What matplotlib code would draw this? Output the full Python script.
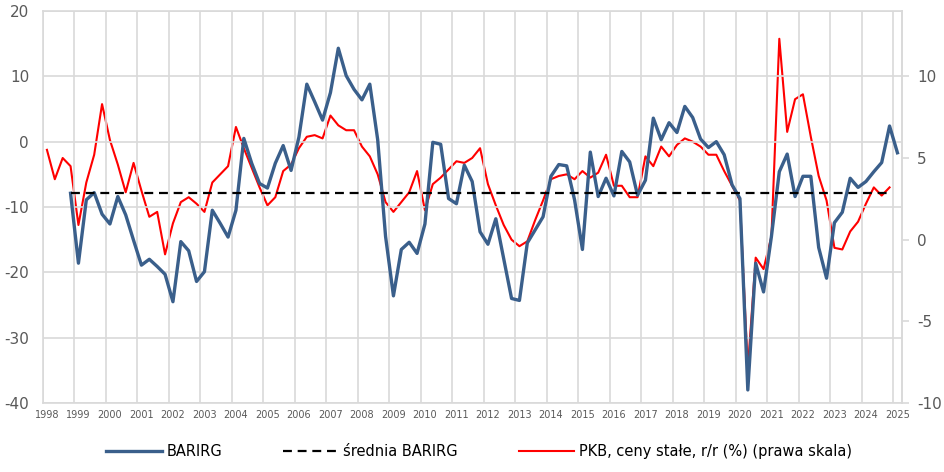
import numpy as np
import pandas as pd
import matplotlib
matplotlib.use("Agg")
import matplotlib.pyplot as plt
import matplotlib.transforms as mtransforms

plt.rcParams["axes.unicode_minus"] = False

# PKB, ceny stałe, r/r (%) – 1998Q1 .. 2024Q4
pkb = [5.5, 3.7, 5.0, 4.5, 0.9, 3.5, 5.2, 8.3, 6.1, 4.6, 2.9, 4.7, 3.0, 1.4, 1.7, -0.9,
       1.0, 2.3, 2.6, 2.2, 1.7, 3.5, 4.0, 4.5, 6.9, 5.6, 4.4, 3.2, 2.1, 2.6, 4.2, 4.6,
       5.6, 6.3, 6.4, 6.2, 7.6, 7.0, 6.7, 6.7, 5.7, 5.1, 4.0, 2.3, 1.7, 2.3, 2.9, 4.2,
       1.8, 3.4, 3.8, 4.3, 4.8, 4.7, 5.0, 5.6, 3.4, 2.1, 0.9, 0.0, -0.4, -0.1, 1.2, 2.4,
       3.7, 3.9, 4.0, 3.7, 4.2, 3.8, 4.1, 5.2, 3.3, 3.3, 2.6, 2.6, 5.1, 4.5, 5.7, 5.1,
       5.8, 6.2, 6.0, 5.7, 5.2, 5.2, 4.2, 3.3, 2.4, -7.9, -1.1, -1.8, 0.2, 12.3, 6.6, 8.6,
       8.9, 6.3, 3.9, 2.4, -0.5, -0.6, 0.5, 1.1, 2.2, 3.2, 2.7, 3.2]

# BARIRG – 1998Q4 .. 2025Q1
barirg = [-7.9, -18.6, -8.9, -7.8, -11.1, -12.6, -8.4, -11.2, -15.1, -18.9, -18.0, -19.1,
          -20.3, -24.5, -15.3, -16.7, -21.4, -19.9, -10.5, -12.5, -14.6, -10.5, 0.5, -3.3,
          -6.4, -7.1, -3.3, -0.6, -4.4, 0.7, 8.8, 6.1, 3.3, 7.5, 14.3, 10.1, 8.0, 6.4, 8.8,
          0.3, -14.5, -23.6, -16.5, -15.4, -17.1, -12.6, -0.1, -0.4, -8.7, -9.5, -3.6, -6.1,
          -13.8, -15.7, -11.8, -17.9, -24.0, -24.3, -15.5, -13.5, -11.5, -5.3, -3.5, -3.7,
          -8.9, -16.5, -1.6, -8.4, -5.6, -8.3, -1.5, -3.1, -8.2, -5.9, 3.6, 0.3, 2.9, 1.4,
          5.4, 3.7, 0.4, -0.9, 0.0, -2.0, -6.6, -8.7, -38.0, -18.6, -23.0, -14.5, -4.6, -1.9,
          -8.4, -5.3, -5.3, -16.2, -20.9, -12.4, -10.8, -5.6, -7.0, -6.1, -4.6, -3.2, 2.4, -1.7]

srednia_barirg = -7.8
years = list(range(1998, 2026))

q_pkb = pd.period_range("1998Q1", periods=len(pkb), freq="Q")
q_bar = pd.period_range("1998Q4", periods=len(barirg), freq="Q")
q_avg = pd.period_range("1998Q4", "2024Q4", freq="Q")


def to_x(periods):
    return np.array([p.year + (p.quarter - 0.5) / 4 for p in periods])


x_pkb = to_x(q_pkb)
x_bar = to_x(q_bar)
x_avg = to_x(q_avg)

grid_c = "#D9D9D9"
text_c = "#595959"

fig = plt.figure(figsize=(9.45, 4.72), dpi=100)
ax = fig.add_axes([43 / 945, 1 - 403 / 472, (902 - 43) / 945, (403 - 11) / 472])
ax2 = ax.twinx()

l1, = ax.plot(x_bar, barirg, color="#3A5F8B", lw=2.4, zorder=3, label="BARIRG")
l2, = ax.plot(x_avg, [srednia_barirg] * len(x_avg), color="black", lw=1.6,
              dashes=(4, 2.6), zorder=3, label="średnia BARIRG")
l3, = ax2.plot(x_pkb, pkb, color="#FF0000", lw=1.5, zorder=3,
               label="PKB, ceny stałe, r/r (%) (prawa skala)")

ax.set_xlim(1998, 2025.27)
ax.set_ylim(-40, 20)
ax.set_yticks(range(-40, 21, 10))
ax2.set_ylim(-10, 14)
ax2.set_yticks([-10, -5, 0, 5, 10])

ax.set_xticks(years)
ax.set_xticklabels([str(y) for y in years])
ax.grid(True, color=grid_c, lw=1.2)
ax.set_axisbelow(True)
for s in ax.spines.values():
    s.set_color(grid_c)
    s.set_linewidth(1.2)
for s in ax2.spines.values():
    s.set_visible(False)
ax2.spines["right"].set_visible(True)
ax2.spines["right"].set_color(grid_c)
ax2.spines["right"].set_linewidth(1.2)

ax.tick_params(axis="y", length=0, pad=10, labelsize=11, labelcolor=text_c)
ax.tick_params(axis="x", length=0, pad=5, labelsize=7, labelcolor=text_c)
ax2.tick_params(axis="y", length=5, width=1.2, color=grid_c, pad=6,
                labelsize=11, labelcolor=text_c)

offset = mtransforms.ScaledTranslation(4 / 100, 0, fig.dpi_scale_trans)
for lab in ax.get_xticklabels():
    lab.set_transform(lab.get_transform() + offset)

ax.set_zorder(ax2.get_zorder() + 1)
ax.patch.set_visible(False)

fig.legend(handles=[l1, l2, l3], loc="center", bbox_to_anchor=(0.507, 0.043),
           ncol=3, frameon=False, handlelength=3.8, handletextpad=0.3,
           columnspacing=4.2, prop={"size": 10.5})

fig.savefig("out.png", dpi=100)
